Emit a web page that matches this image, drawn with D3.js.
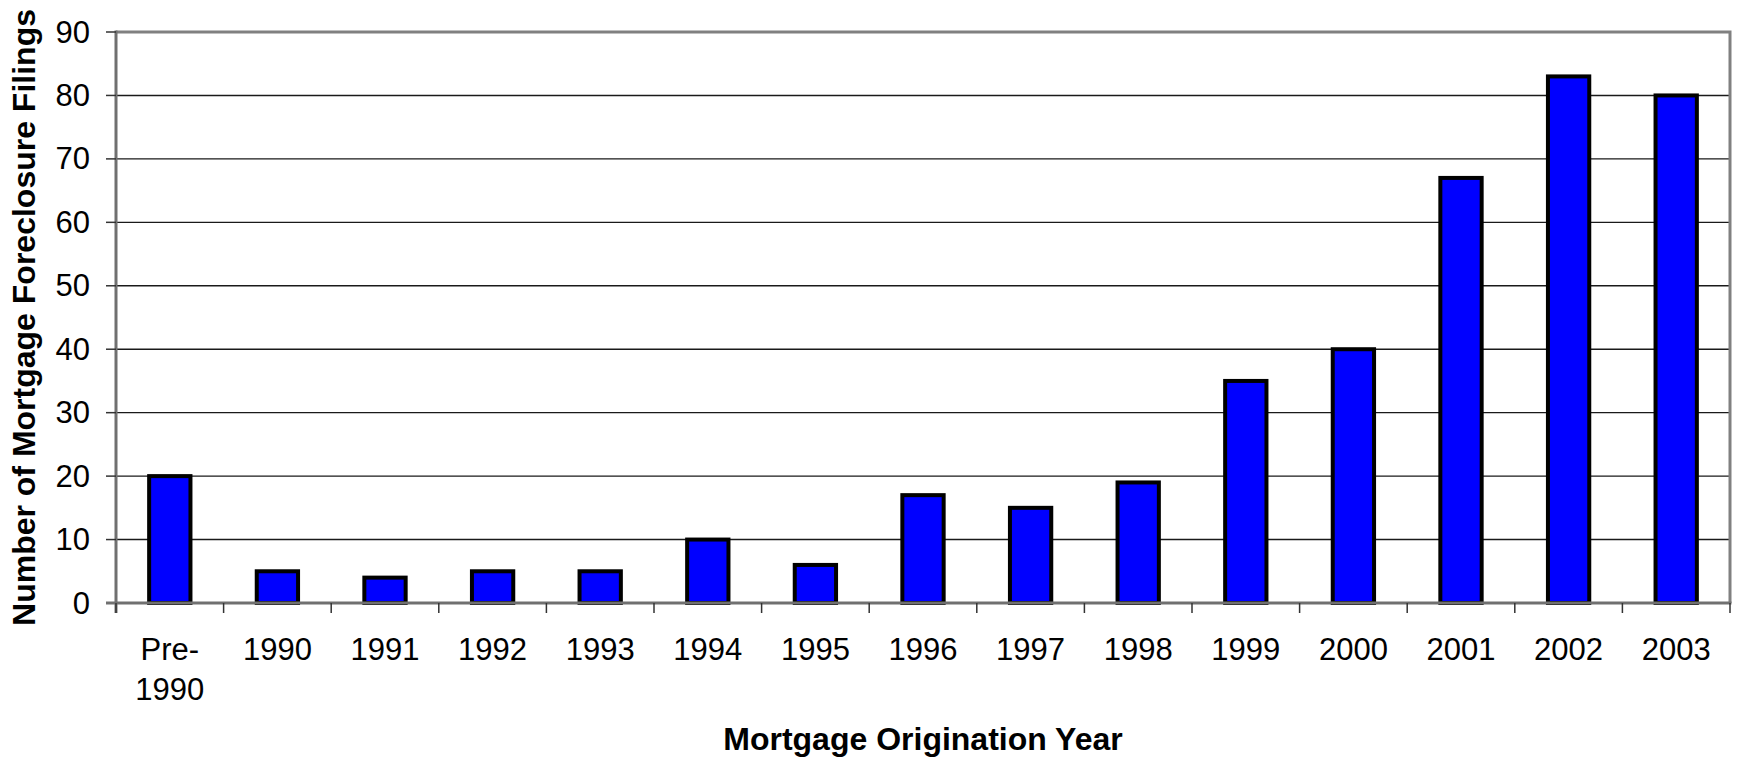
<!DOCTYPE html>
<html>
<head>
<meta charset="utf-8">
<script src="https://cdn.jsdelivr.net/npm/d3@7/dist/d3.min.js"></script>
<style>
  html, body { margin: 0; padding: 0; background: #fff; }
  svg { display: block; font-family: "Liberation Sans", Arial, sans-serif; }
</style>
</head>
<body>
<svg id="chart" width="1739" height="758"></svg>
<script>
// Foreclosure filings by mortgage origination year
const categories = ["Pre-1990", "1990", "1991", "1992", "1993", "1994", "1995", "1996",
                    "1997", "1998", "1999", "2000", "2001", "2002", "2003"];
const filings = [20, 5, 4, 5, 5, 10, 6, 17, 15, 19, 35, 40, 67, 83, 80];
const yTicks = [0, 10, 20, 30, 40, 50, 60, 70, 80, 90];
const yTitle = "Number of Mortgage Foreclosure Filings";
const xTitle = "Mortgage Origination Year";

const W = 1739, H = 758;
const plot = { left: 116, right: 1730, top: 32, bottom: 603 };

const svg = d3.select("#chart");

const x = d3.scaleBand().domain(categories).range([plot.left, plot.right]).padding(0);
const xBar = d3.scaleBand().domain(categories).range([plot.left, plot.right])
  .paddingInner(0.616).paddingOuter(0.308);
const y = d3.scaleLinear().domain([0, 90]).range([plot.bottom, plot.top]);

// horizontal gridlines
svg.append("g").selectAll("line").data(yTicks.filter(d => d > 0 && d < 90)).join("line")
  .attr("x1", plot.left).attr("x2", plot.right)
  .attr("y1", d => y(d)).attr("y2", d => y(d))
  .attr("stroke", "#1a1a1a").attr("stroke-width", 1.4);

// plot-area frame (top and right edges)
svg.append("path")
  .attr("d", `M${plot.left},${plot.top}H${plot.right}V${plot.bottom}`)
  .attr("fill", "none").attr("stroke", "#808080").attr("stroke-width", 3);

// bars
svg.append("g").selectAll("rect").data(categories).join("rect")
  .attr("x", d => xBar(d))
  .attr("width", xBar.bandwidth())
  .attr("y", (d, i) => y(filings[i]))
  .attr("height", (d, i) => y(0) - y(filings[i]))
  .attr("fill", "#0000ff")
  .attr("stroke", "#000").attr("stroke-width", 4);

// y axis
const yAxis = svg.append("g");
yAxis.append("line")
  .attr("x1", plot.left).attr("x2", plot.left)
  .attr("y1", plot.top - 1.5).attr("y2", plot.bottom + 10)
  .attr("stroke", "#707070").attr("stroke-width", 3);
yAxis.selectAll("line.tick").data(yTicks).join("line").attr("class", "tick")
  .attr("x1", plot.left - 10).attr("x2", plot.left)
  .attr("y1", d => y(d)).attr("y2", d => y(d))
  .attr("stroke", "#333").attr("stroke-width", 1.5);
yAxis.selectAll("text").data(yTicks).join("text")
  .attr("x", 90).attr("y", d => y(d))
  .attr("text-anchor", "end").attr("dominant-baseline", "central")
  .attr("font-size", 31).attr("fill", "#000")
  .text(d => d);

// x axis
const xAxis = svg.append("g");
xAxis.append("line")
  .attr("x1", plot.left - 10).attr("x2", plot.right + 1.5)
  .attr("y1", plot.bottom).attr("y2", plot.bottom)
  .attr("stroke", "#707070").attr("stroke-width", 3);
const bounds = categories.map(c => x(c)).concat([plot.right]);
xAxis.selectAll("line.tick").data(bounds).join("line").attr("class", "tick")
  .attr("x1", d => d).attr("x2", d => d)
  .attr("y1", plot.bottom).attr("y2", plot.bottom + 10)
  .attr("stroke", "#333").attr("stroke-width", 1.5);
const labels = xAxis.selectAll("text").data(categories).join("text")
  .attr("x", d => x(d) + x.bandwidth() / 2)
  .attr("y", 660)
  .attr("text-anchor", "middle")
  .attr("font-size", 31).attr("fill", "#000");
labels.each(function(d) {
  const parts = d.includes("-") ? [d.slice(0, d.indexOf("-") + 1), d.slice(d.indexOf("-") + 1)] : [d];
  d3.select(this).selectAll("tspan").data(parts).join("tspan")
    .attr("x", x(d) + x.bandwidth() / 2)
    .attr("dy", (p, i) => i === 0 ? 0 : 40)
    .text(p => p);
});

// axis titles
svg.append("text")
  .attr("x", (plot.left + plot.right) / 2).attr("y", 750)
  .attr("text-anchor", "middle")
  .attr("font-size", 32).attr("font-weight", "bold")
  .text(xTitle);
svg.append("text")
  .attr("transform", `translate(35,${(plot.top + plot.bottom) / 2}) rotate(-90)`)
  .attr("text-anchor", "middle")
  .attr("font-size", 32).attr("font-weight", "bold")
  .text(yTitle);
</script>
</body>
</html>
